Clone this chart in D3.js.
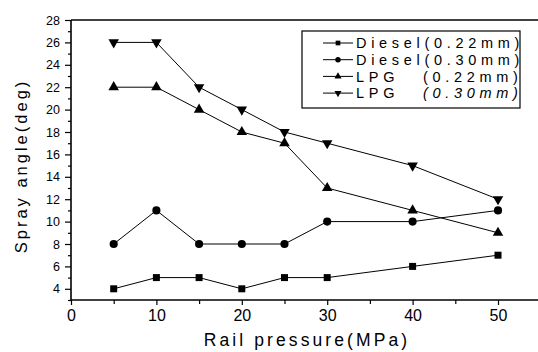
<!DOCTYPE html>
<html>
<head>
<meta charset="utf-8">
<script src="https://cdn.jsdelivr.net/npm/d3@7"></script>
<style>
  html, body { margin: 0; padding: 0; background: #fff; }
  svg { display: block; }
  text { font-family: "Liberation Sans", Arial, sans-serif; fill: #000; }
</style>
</head>
<body>
<svg id="chart" width="538" height="352"></svg>
<script>
// Rail pressure (MPa) at which spray angle was measured
const pressure = [5, 10, 15, 20, 25, 30, 40, 50];

// Spray angle (deg) per fuel / nozzle diameter
const diesel022 = [4, 5, 5, 4, 5, 5, 6, 7];
const diesel030 = [8, 11, 8, 8, 8, 10, 10, 11];
const lpg022    = [22, 22, 20, 18, 17, 13, 11, 9];
const lpg030    = [26, 26, 22, 20, 18, 17, 15, 12];

const seriesNames = ["Diesel", "Diesel", "LPG", "LPG"];
const seriesSpecs = ["(0.22mm)", "(0.30mm)", "(0.22mm)", "(0.30mm)"];
const seriesValues = [diesel022, diesel030, lpg022, lpg030];

const xTicks = [0, 10, 20, 30, 40, 50];
const yTicks = [4, 6, 8, 10, 12, 14, 16, 18, 20, 22, 24, 26, 28];

const symbols = [d3.symbolSquare, d3.symbolCircle, d3.symbolTriangle, d3.symbolTriangle];
const symbolSizes = [49, 52, 48, 48];
const symbolRotate = [0, 0, 0, 180];

const svg = d3.select("#chart");

const plotLeft = 71, plotTop = 20, plotBottom = 300;
const x = d3.scaleLinear().domain([0, 55]).range([plotLeft, plotLeft + 55 * 8.54]);
const y = d3.scaleLinear().domain([3, 28]).range([plotBottom, plotTop]);

// Frame: top edge runs off to the right
svg.append("line")
  .attr("x1", plotLeft).attr("x2", 538).attr("y1", plotTop).attr("y2", plotTop)
  .attr("stroke", "#000").attr("stroke-width", 1.5);

// X axis
const xAxis = svg.append("g").attr("transform", `translate(0,${plotBottom})`);
xAxis.call(d3.axisBottom(x).tickValues(d3.range(5, 55, 10)).tickSize(4).tickFormat(""));
xAxis.call(g => g.append("g").call(d3.axisBottom(x).tickValues(xTicks).tickSize(5).tickPadding(5).tickFormat(d3.format("d"))));
xAxis.selectAll(".domain").remove();
xAxis.append("line").attr("x1", plotLeft).attr("x2", 538).attr("stroke", "#000").attr("stroke-width", 1.6);
xAxis.selectAll("line").attr("stroke", "#000");
xAxis.selectAll(".tick line").attr("stroke-width", 1.2);
xAxis.selectAll("text").style("font-size", "16px").attr("fill", "#000");

// Y axis
const yAxis = svg.append("g").attr("transform", `translate(${plotLeft},0)`);
yAxis.call(d3.axisLeft(y).tickValues(d3.range(3, 28, 2)).tickSize(3).tickFormat(""));
yAxis.call(g => g.append("g").call(d3.axisLeft(y).tickValues(yTicks).tickSize(6).tickPadding(5).tickFormat(d3.format("d"))));
yAxis.selectAll(".domain").remove();
yAxis.append("line").attr("y1", plotTop).attr("y2", plotBottom).attr("stroke", "#000").attr("stroke-width", 1.6);
yAxis.selectAll(".tick line").attr("stroke", "#000").attr("stroke-width", 1.2);
yAxis.selectAll("text").style("font-size", "12.5px").attr("fill", "#000");

// Axis titles
svg.append("text")
  .attr("x", 307).attr("y", 346)
  .attr("text-anchor", "middle")
  .style("font-size", "17.5px").style("letter-spacing", "3.1px")
  .text("Rail pressure(MPa)");

svg.append("text")
  .attr("transform", "translate(27,166) rotate(-90)")
  .attr("text-anchor", "middle")
  .style("font-size", "16.5px").style("letter-spacing", "3px")
  .text("Spray angle(deg)");

// Series lines and markers
const line = d3.line().x((d, i) => x(pressure[i])).y(d => y(d));

seriesValues.forEach((vals, s) => {
  svg.append("path")
    .datum(vals)
    .attr("d", line)
    .attr("fill", "none").attr("stroke", "#000").attr("stroke-width", 1);
  svg.append("g").selectAll("path")
    .data(vals)
    .join("path")
    .attr("d", d3.symbol(symbols[s], symbolSizes[s]))
    .attr("transform", (d, i) => `translate(${x(pressure[i])},${y(d)}) rotate(${symbolRotate[s]})`)
    .attr("fill", "#000");
});

// Legend
const legend = svg.append("g");
legend.append("rect")
  .attr("x", 302).attr("y", 31).attr("width", 218).attr("height", 77)
  .attr("fill", "#fff").attr("stroke", "#000").attr("stroke-width", 1.2);

seriesNames.forEach((name, s) => {
  const cy = 43 + s * 16.7;
  legend.append("line")
    .attr("x1", 323).attr("x2", 353).attr("y1", cy).attr("y2", cy)
    .attr("stroke", "#000").attr("stroke-width", 1);
  legend.append("path")
    .attr("d", d3.symbol(symbols[s], symbolSizes[s] * 0.45))
    .attr("transform", `translate(338,${cy}) rotate(${symbolRotate[s]})`)
    .attr("fill", "#000");
  const label = legend.append("text")
    .attr("x", 356).attr("y", cy + 5.3)
    .style("font-size", "14.5px").style("letter-spacing", "4.7px");
  label.append("tspan").text(name);
  const spec = label.append("tspan")
    .style("font-style", s === 3 ? "italic" : "normal")
    .text(seriesSpecs[s]);
  // short names get their diameter aligned under the longer ones
  if (name.length < 6) spec.attr("x", 423);
});
</script>
</body>
</html>
